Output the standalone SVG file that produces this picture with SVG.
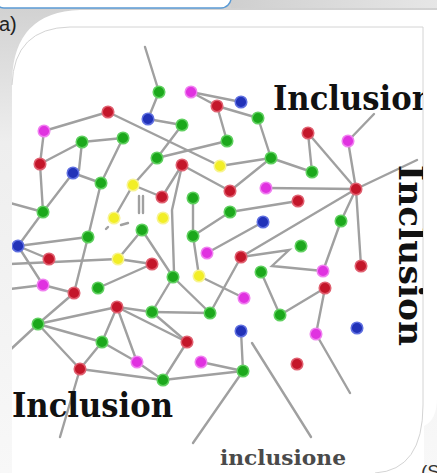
<svg xmlns="http://www.w3.org/2000/svg" width="437" height="473" viewBox="0 0 437 473">
<defs>
<linearGradient id="bg" x1="0" y1="0" x2="0" y2="1"><stop offset="0" stop-color="#d0d0d0"/><stop offset="0.3" stop-color="#eeeeee"/><stop offset="1" stop-color="#f8f8f8"/></linearGradient>
<linearGradient id="strip" x1="0" y1="0" x2="1" y2="0"><stop offset="0" stop-color="#cfcfcf"/><stop offset="1" stop-color="#e6e6e6"/></linearGradient>
<clipPath id="card"><path d="M12,85 Q14,28 70,27 L423,27 L423,405 Q423,470 375,473 L12,473 Z"/></clipPath>
<filter id="soft" x="-10%" y="-10%" width="120%" height="120%"><feGaussianBlur stdDeviation="0.6"/></filter>
<style>
.ln{stroke:#a0a0a0;stroke-width:2.4;fill:none;stroke-linecap:round}
.r{fill:#c4182c;stroke:#e06070;stroke-width:1.5}
.g{fill:#1ea81e;stroke:#60d060;stroke-width:1.5}
.m{fill:#e030e0;stroke:#f080f0;stroke-width:1.5}
.b{fill:#2030b8;stroke:#6070e0;stroke-width:1.5}
.y{fill:#f2ee28;stroke:#f8f490;stroke-width:1.5}
.big{font-family:"DejaVu Serif",serif;font-weight:bold;font-size:33px;fill:#111}
</style>
</defs>
<rect width="437" height="473" fill="url(#bg)"/>
<rect x="231" y="0" width="206" height="8" fill="url(#strip)"/>
<rect x="-6" y="-20" width="237" height="28" rx="10" fill="#fff" stroke="#5b9bd5" stroke-width="1.5"/>
<path d="M12,80 Q14,12 80,10 L437,10 L437,398 Q437,420 424,426 L424,473 L12,473 Z" fill="#fff"/>
<path d="M12,85 Q14,28 70,27 L423,27 L423,405 Q423,470 375,473" fill="#fff" stroke="#d4d4d4" stroke-width="1"/>
<text x="-1" y="31" font-family="Liberation Sans, sans-serif" font-size="20" fill="#222">a)</text>
<g clip-path="url(#card)">
<g id="connectors" filter="url(#soft)">
<line class="ln" x1="145" y1="47" x2="159" y2="92"/>
<line class="ln" x1="159" y1="92" x2="148" y2="119"/>
<line class="ln" x1="148" y1="119" x2="182" y2="125"/>
<line class="ln" x1="191" y1="92" x2="217" y2="106"/>
<line class="ln" x1="191" y1="92" x2="241" y2="102"/>
<line class="ln" x1="217" y1="106" x2="258" y2="118"/>
<line class="ln" x1="217" y1="106" x2="227" y2="141"/>
<line class="ln" x1="258" y1="118" x2="271" y2="158"/>
<line class="ln" x1="108" y1="112" x2="44" y2="131"/>
<line class="ln" x1="108" y1="112" x2="220" y2="166"/>
<line class="ln" x1="44" y1="131" x2="40" y2="164"/>
<line class="ln" x1="82" y1="142" x2="123" y2="138"/>
<line class="ln" x1="82" y1="142" x2="40" y2="164"/>
<line class="ln" x1="82" y1="142" x2="79" y2="170"/>
<line class="ln" x1="123" y1="138" x2="101" y2="183"/>
<line class="ln" x1="73" y1="173" x2="101" y2="183"/>
<line class="ln" x1="73" y1="173" x2="43" y2="212"/>
<line class="ln" x1="182" y1="125" x2="157" y2="158"/>
<line class="ln" x1="157" y1="158" x2="227" y2="141"/>
<line class="ln" x1="157" y1="158" x2="133" y2="185"/>
<line class="ln" x1="133" y1="185" x2="162" y2="197"/>
<line class="ln" x1="133" y1="185" x2="114" y2="218"/>
<line class="ln" x1="182" y1="165" x2="162" y2="197"/>
<line class="ln" x1="182" y1="165" x2="230" y2="191"/>
<line class="ln" x1="308" y1="133" x2="312" y2="172"/>
<line class="ln" x1="308" y1="133" x2="356" y2="189"/>
<line class="ln" x1="348" y1="141" x2="356" y2="189"/>
<line class="ln" x1="348" y1="141" x2="374" y2="114"/>
<line class="ln" x1="271" y1="158" x2="220" y2="166"/>
<line class="ln" x1="271" y1="158" x2="312" y2="172"/>
<line class="ln" x1="271" y1="158" x2="230" y2="191"/>
<line class="ln" x1="266" y1="188" x2="356" y2="189"/>
<line class="ln" x1="356" y1="189" x2="417" y2="160"/>
<line class="ln" x1="356" y1="189" x2="341" y2="221"/>
<line class="ln" x1="356" y1="189" x2="361" y2="266"/>
<line class="ln" x1="356" y1="189" x2="241" y2="257"/>
<line class="ln" x1="341" y1="221" x2="323" y2="271"/>
<line class="ln" x1="230" y1="212" x2="298" y2="201"/>
<line class="ln" x1="193" y1="236" x2="230" y2="212"/>
<line class="ln" x1="193" y1="198" x2="193" y2="236"/>
<line class="ln" x1="193" y1="236" x2="199" y2="276"/>
<line class="ln" x1="263" y1="222" x2="207" y2="253"/>
<line class="ln" x1="40" y1="164" x2="43" y2="212"/>
<line class="ln" x1="43" y1="212" x2="10" y2="203"/>
<line class="ln" x1="43" y1="212" x2="18" y2="246"/>
<line class="ln" x1="101" y1="183" x2="88" y2="237"/>
<line class="ln" x1="18" y1="246" x2="88" y2="237"/>
<line class="ln" x1="18" y1="246" x2="49" y2="259"/>
<line class="ln" x1="18" y1="246" x2="43" y2="285"/>
<line class="ln" x1="10" y1="264" x2="118" y2="259"/>
<line class="ln" x1="118" y1="259" x2="152" y2="264"/>
<line class="ln" x1="142" y1="230" x2="118" y2="259"/>
<line class="ln" x1="142" y1="230" x2="173" y2="277"/>
<polyline class="ln" points="181,170 172,210 174,272"/>
<polyline class="ln" points="241,257 289,250 272,266 323,271"/>
<line class="ln" x1="241" y1="257" x2="210" y2="313"/>
<line class="ln" x1="173" y1="277" x2="152" y2="312"/>
<line class="ln" x1="173" y1="277" x2="210" y2="313"/>
<line class="ln" x1="199" y1="276" x2="244" y2="298"/>
<line class="ln" x1="261" y1="272" x2="280" y2="315"/>
<line class="ln" x1="325" y1="288" x2="280" y2="315"/>
<line class="ln" x1="325" y1="288" x2="316" y2="334"/>
<line class="ln" x1="98" y1="288" x2="152" y2="264"/>
<line class="ln" x1="88" y1="237" x2="74" y2="293"/>
<line class="ln" x1="43" y1="285" x2="74" y2="293"/>
<line class="ln" x1="10" y1="289" x2="43" y2="285"/>
<line class="ln" x1="74" y1="293" x2="38" y2="324"/>
<line class="ln" x1="38" y1="324" x2="10" y2="350"/>
<line class="ln" x1="38" y1="324" x2="102" y2="342"/>
<line class="ln" x1="38" y1="324" x2="80" y2="369"/>
<line class="ln" x1="38" y1="324" x2="117" y2="307"/>
<line class="ln" x1="117" y1="307" x2="152" y2="312"/>
<line class="ln" x1="117" y1="307" x2="102" y2="342"/>
<line class="ln" x1="117" y1="307" x2="137" y2="362"/>
<line class="ln" x1="117" y1="307" x2="187" y2="342"/>
<line class="ln" x1="152" y1="312" x2="210" y2="313"/>
<line class="ln" x1="152" y1="312" x2="187" y2="342"/>
<line class="ln" x1="102" y1="342" x2="80" y2="369"/>
<line class="ln" x1="102" y1="342" x2="137" y2="362"/>
<line class="ln" x1="137" y1="362" x2="163" y2="380"/>
<line class="ln" x1="80" y1="369" x2="163" y2="380"/>
<line class="ln" x1="187" y1="342" x2="163" y2="380"/>
<line class="ln" x1="163" y1="380" x2="243" y2="371"/>
<line class="ln" x1="201" y1="362" x2="243" y2="371"/>
<line class="ln" x1="241" y1="331" x2="243" y2="371"/>
<line class="ln" x1="243" y1="371" x2="193" y2="443"/>
<line class="ln" x1="252" y1="343" x2="311" y2="437"/>
<line class="ln" x1="316" y1="334" x2="350" y2="393"/>
<line class="ln" x1="80" y1="369" x2="60" y2="437"/>
<line class="ln" x1="139" y1="196" x2="139" y2="213"/>
<line class="ln" x1="143" y1="196" x2="143" y2="213"/>
<line class="ln" x1="121" y1="225" x2="128" y2="223"/>
<line class="ln" x1="106" y1="229" x2="108" y2="227"/>
</g>
<g id="nodes" filter="url(#soft)">
<g id="n1"><circle class="g" cx="159" cy="92" r="5.8"/></g>
<g id="n2"><circle class="m" cx="191" cy="92" r="5.8"/></g>
<g id="n3"><circle class="b" cx="241" cy="102" r="5.8"/></g>
<g id="n4"><circle class="r" cx="217" cy="106" r="5.8"/></g>
<g id="n5"><circle class="g" cx="258" cy="118" r="5.8"/></g>
<g id="n6"><circle class="r" cx="108" cy="112" r="5.8"/></g>
<g id="n7"><circle class="m" cx="44" cy="131" r="5.8"/></g>
<g id="n8"><circle class="g" cx="82" cy="142" r="5.8"/></g>
<g id="n9"><circle class="g" cx="123" cy="138" r="5.8"/></g>
<g id="n10"><circle class="b" cx="148" cy="119" r="5.8"/></g>
<g id="n11"><circle class="g" cx="182" cy="125" r="5.8"/></g>
<g id="n12"><circle class="r" cx="308" cy="133" r="5.8"/></g>
<g id="n13"><circle class="m" cx="348" cy="141" r="5.8"/></g>
<g id="n14"><circle class="g" cx="227" cy="141" r="5.8"/></g>
<g id="n15"><circle class="g" cx="157" cy="158" r="5.8"/></g>
<g id="n16"><circle class="r" cx="182" cy="165" r="5.8"/></g>
<g id="n17"><circle class="y" cx="220" cy="166" r="5.8"/></g>
<g id="n18"><circle class="g" cx="271" cy="158" r="5.8"/></g>
<g id="n19"><circle class="r" cx="40" cy="164" r="5.8"/></g>
<g id="n20"><circle class="b" cx="73" cy="173" r="5.8"/></g>
<g id="n21"><circle class="g" cx="101" cy="183" r="5.8"/></g>
<g id="n22"><circle class="y" cx="133" cy="185" r="5.8"/></g>
<g id="n23"><circle class="g" cx="312" cy="172" r="5.8"/></g>
<g id="n24"><circle class="m" cx="266" cy="188" r="5.8"/></g>
<g id="n25"><circle class="r" cx="230" cy="191" r="5.8"/></g>
<g id="n26"><circle class="r" cx="356" cy="189" r="5.8"/></g>
<g id="n27"><circle class="r" cx="162" cy="197" r="5.8"/></g>
<g id="n28"><circle class="g" cx="193" cy="198" r="5.8"/></g>
<g id="n29"><circle class="r" cx="298" cy="201" r="5.8"/></g>
<g id="n30"><circle class="g" cx="43" cy="212" r="5.8"/></g>
<g id="n31"><circle class="y" cx="114" cy="218" r="5.8"/></g>
<g id="n32"><circle class="y" cx="163" cy="218" r="5.8"/></g>
<g id="n33"><circle class="g" cx="230" cy="212" r="5.8"/></g>
<g id="n34"><circle class="b" cx="263" cy="222" r="5.8"/></g>
<g id="n35"><circle class="g" cx="341" cy="221" r="5.8"/></g>
<g id="n36"><circle class="g" cx="142" cy="230" r="5.8"/></g>
<g id="n37"><circle class="g" cx="88" cy="237" r="5.8"/></g>
<g id="n38"><circle class="g" cx="193" cy="236" r="5.8"/></g>
<g id="n39"><circle class="b" cx="18" cy="246" r="5.8"/></g>
<g id="n40"><circle class="m" cx="207" cy="253" r="5.8"/></g>
<g id="n41"><circle class="r" cx="49" cy="259" r="5.8"/></g>
<g id="n42"><circle class="y" cx="118" cy="259" r="5.8"/></g>
<g id="n43"><circle class="r" cx="152" cy="264" r="5.8"/></g>
<g id="n44"><circle class="g" cx="301" cy="246" r="5.8"/></g>
<g id="n45"><circle class="r" cx="241" cy="257" r="5.8"/></g>
<g id="n46"><circle class="g" cx="173" cy="277" r="5.8"/></g>
<g id="n47"><circle class="y" cx="199" cy="276" r="5.8"/></g>
<g id="n48"><circle class="g" cx="261" cy="272" r="5.8"/></g>
<g id="n49"><circle class="m" cx="323" cy="271" r="5.8"/></g>
<g id="n50"><circle class="r" cx="361" cy="266" r="5.8"/></g>
<g id="n51"><circle class="m" cx="43" cy="285" r="5.8"/></g>
<g id="n52"><circle class="r" cx="74" cy="293" r="5.8"/></g>
<g id="n53"><circle class="g" cx="98" cy="288" r="5.8"/></g>
<g id="n54"><circle class="r" cx="325" cy="288" r="5.8"/></g>
<g id="n55"><circle class="m" cx="244" cy="298" r="5.8"/></g>
<g id="n56"><circle class="r" cx="117" cy="307" r="5.8"/></g>
<g id="n57"><circle class="g" cx="152" cy="312" r="5.8"/></g>
<g id="n58"><circle class="g" cx="210" cy="313" r="5.8"/></g>
<g id="n59"><circle class="g" cx="280" cy="315" r="5.8"/></g>
<g id="n60"><circle class="g" cx="38" cy="324" r="5.8"/></g>
<g id="n61"><circle class="g" cx="102" cy="342" r="5.8"/></g>
<g id="n62"><circle class="r" cx="187" cy="342" r="5.8"/></g>
<g id="n63"><circle class="m" cx="137" cy="362" r="5.8"/></g>
<g id="n64"><circle class="m" cx="201" cy="362" r="5.8"/></g>
<g id="n65"><circle class="r" cx="80" cy="369" r="5.8"/></g>
<g id="n66"><circle class="g" cx="163" cy="380" r="5.8"/></g>
<g id="n67"><circle class="b" cx="241" cy="331" r="5.8"/></g>
<g id="n68"><circle class="m" cx="316" cy="334" r="5.8"/></g>
<g id="n69"><circle class="b" cx="357" cy="328" r="5.8"/></g>
<g id="n70"><circle class="r" cx="297" cy="364" r="5.8"/></g>
<g id="n71"><circle class="g" cx="243" cy="371" r="5.8"/></g>
</g>
<text class="big" x="273" y="110" textLength="161" lengthAdjust="spacingAndGlyphs">Inclusion</text>
<text class="big" transform="translate(399,165) rotate(90)" textLength="181" lengthAdjust="spacingAndGlyphs">Inclusion</text>
<text class="big" x="12" y="417" textLength="161" lengthAdjust="spacingAndGlyphs">Inclusion</text>
<text x="220" y="465" font-family="DejaVu Serif, serif" font-weight="bold" font-size="20" fill="#4a4a4a" textLength="126" lengthAdjust="spacingAndGlyphs">inclusione</text>
</g>
<text x="421" y="478" font-family="Liberation Sans, sans-serif" font-size="19" fill="#333">(S</text>
</svg>
